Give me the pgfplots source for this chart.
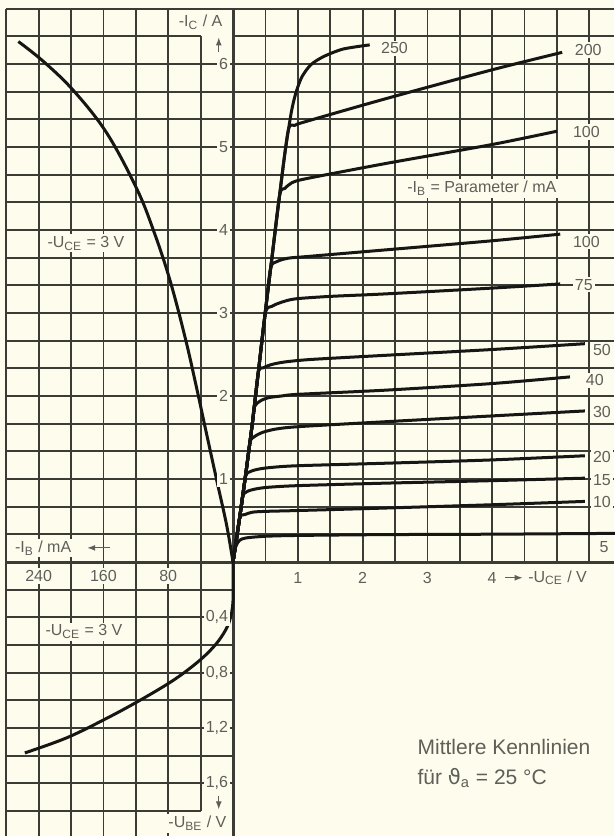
\documentclass[border=0pt]{standalone}
\usepackage{fontspec}
\setmainfont{Liberation Sans}
\newfontfamily\dejavu{DejaVu Sans}
\usepackage{pgfplots}
\pgfplotsset{compat=1.18}
\usetikzlibrary{arrows.meta}
\definecolor{bg}{RGB}{254,252,236}
\definecolor{gridc}{RGB}{60,60,55}
\definecolor{curvec}{RGB}{22,22,20}
\definecolor{txt}{RGB}{95,95,90}
\pgfplotsset{cv/.style={color=curvec, line width=1.5pt, smooth, tension=0.45, no markers}}
\tikzset{lab/.style={font=\fontsize{8}{9}\selectfont, text=txt, fill=bg, inner sep=1pt}}
\begin{document}
\begin{tikzpicture}
\begin{axis}[
  scale only axis, width=307pt, height=418pt,
  xmin=-3.596, xmax=5.88, ymin=-3.301, ymax=6.771,
  xtick=\empty, ytick=\empty,
  axis line style={draw=none},
  axis background/.style={fill=bg},
  clip=false,
]
% grid
\draw[gridc, line width=0.9pt]
  foreach \x in {-3.5,-3,-2.5,-2,-1.5,-1} {(\x,-3.301) -- (\x,6.667)}
  (-0.5,-3.0) -- (-0.5,6.333)
  foreach \x in {0.5,1,...,5.5} {(\x,0) -- (\x,6.667)}
  foreach \k in {1,...,18,20} {(-3.5,\k/3) -- (5.88,\k/3)}
  (-3.5,19/3) -- (-0.5,19/3) (0,19/3) -- (5.88,19/3)
  foreach \k in {1,...,8} {(-3.5,-\k/3) -- (0,-\k/3)}
  (-3.5,-3) -- (-0.5,-3);
\draw[gridc, line width=1.5pt] (-3.5,0) -- (5.88,0) (0,-3.301) -- (0,6.667);

% output characteristics  -I_C vs -U_CE
\addplot[cv] coordinates {(0,0)(0.04,0.18)(0.1,0.26)(0.2,0.29)(0.5,0.31)(1,0.32)(2.35,0.33)(4,0.335)(5.9,0.345)};
\addplot[cv] coordinates {(0,0)(0.1,0.52)(0.18,0.57)(0.3,0.6)(0.5,0.61)(1,0.62)(2.35,0.65)(4,0.69)(5.43,0.73)};
\addplot[cv] coordinates {(0,0)(0.1,0.52)(0.15,0.79)(0.22,0.85)(0.35,0.88)(0.54,0.9)(1,0.92)(2.35,0.95)(4,0.98)(5.43,1.01)};
\addplot[cv] coordinates {(0,0)(0.1,0.52)(0.19,1.02)(0.27,1.09)(0.4,1.12)(0.6,1.14)(1,1.16)(2.35,1.19)(4,1.23)(5.43,1.28)};
\addplot[cv] coordinates {(0,0)(0.1,0.52)(0.2,1.08)(0.26,1.44)(0.33,1.51)(0.45,1.56)(0.65,1.6)(1,1.63)(2.35,1.69)(4,1.76)(5.43,1.82)};
\addplot[cv] coordinates {(0,0)(0.1,0.52)(0.2,1.08)(0.3,1.68)(0.33,1.87)(0.42,1.94)(0.55,1.98)(0.75,2.0)(1,2.02)(2.35,2.07)(4,2.15)(5.2,2.23)};
\addplot[cv] coordinates {(0,0)(0.1,0.52)(0.2,1.08)(0.3,1.68)(0.39,2.28)(0.47,2.34)(0.6,2.38)(0.8,2.41)(1.2,2.44)(2.35,2.49)(4,2.56)(5.43,2.63)};
\addplot[cv] coordinates {(0,0)(0.1,0.52)(0.2,1.08)(0.3,1.68)(0.4,2.35)(0.5,3.0)(0.6,3.08)(0.75,3.13)(0.96,3.17)(1.5,3.2)(2.35,3.23)(4,3.3)(5.05,3.35)};
\addplot[cv] coordinates {(0,0)(0.1,0.52)(0.2,1.08)(0.3,1.68)(0.4,2.35)(0.5,3.02)(0.58,3.54)(0.68,3.62)(0.85,3.66)(1.14,3.68)(2.35,3.76)(4,3.87)(5.05,3.95)};
\addplot[cv] coordinates {(0,0)(0.1,0.52)(0.2,1.08)(0.3,1.68)(0.4,2.35)(0.5,3.02)(0.6,3.66)(0.72,4.42)(0.8,4.5)(0.91,4.57)(1.14,4.62)(2.35,4.8)(4,5.03)(5.0,5.19)};
\addplot[cv] coordinates {(0,0)(0.1,0.52)(0.2,1.08)(0.3,1.68)(0.4,2.35)(0.5,3.02)(0.6,3.66)(0.7,4.3)(0.85,5.19)(0.95,5.26)(1.14,5.31)(2.35,5.58)(4,5.93)(5.08,6.14)};
\addplot[cv] coordinates {(0,0)(0.1,0.52)(0.2,1.08)(0.3,1.68)(0.4,2.35)(0.5,3.02)(0.6,3.66)(0.7,4.3)(0.8,4.92)(0.9,5.42)(0.97,5.65)(1.06,5.84)(1.2,5.99)(1.4,6.09)(1.7,6.18)(2.11,6.23)};

% transfer characteristic -I_C vs -I_B (mA), U_CE = 3 V
\addplot[cv, tension=0.6] table[x expr=-\thisrow{ib}/80, y=ic] {
ib ic
0 0
8 0.45
20 0.98
33 1.56
45 2.1
59 2.7
78 3.4
98 3.99
119 4.5
156 5.17
197 5.68
234 6.03
265 6.27
};
% input characteristic -U_BE vs -I_B
\addplot[cv, tension=0.6] table[x expr=-\thisrow{ib}/80, y expr=-\thisrow{ube}*5/3] {
ib ube
0 0
0 0.28
4 0.42
12 0.52
25 0.62
45 0.73
75 0.86
115 1.0
156 1.13
205 1.27
257 1.38
};

% labels
\node[lab, anchor=east] at (-0.04,1) {1};
\node[lab, anchor=east] at (-0.04,2) {2};
\node[lab, anchor=east] at (-0.04,3) {3};
\node[lab, anchor=east] at (-0.04,4) {4};
\node[lab, anchor=east] at (-0.04,5) {5};
\node[lab, anchor=east] at (-0.04,6) {6};
\node[lab, anchor=east] at (-0.04,-0.667) {0,4};
\node[lab, anchor=east] at (-0.04,-1.333) {0,8};
\node[lab, anchor=east] at (-0.04,-2.0) {1,2};
\node[lab, anchor=east] at (-0.04,-2.667) {1,6};
\node[lab] at (-3,-0.167) {240};
\node[lab] at (-2,-0.167) {160};
\node[lab] at (-1,-0.167) {80};
\node[lab] at (1,-0.19) {1};
\node[lab] at (2,-0.19) {2};
\node[lab] at (3,-0.19) {3};
\node[lab] at (4,-0.19) {4};
\draw[txt, line width=0.6pt, -{Latex[length=4pt,width=3pt]}] (4.2,-0.19) -- (4.47,-0.19);
\node[lab, anchor=west] at (4.52,-0.19) {-U\textsubscript{CE} / V};
\node[lab, anchor=west] at (-3.4,0.17) {-I\textsubscript{B} / mA};
\draw[txt, line width=0.6pt, -{Latex[length=4pt,width=3pt]}] (-1.9,0.17) -- (-2.25,0.17);
\node[lab] at (-0.5,6.5) {-I\textsubscript{C} / A};
\draw[txt, line width=0.6pt, -{Latex[length=4pt,width=3pt]}] (-0.22,6.14) -- (-0.22,6.32);
\node[lab] at (-0.55,-3.15) {-U\textsubscript{BE} / V};
\draw[txt, line width=0.6pt, -{Latex[length=4pt,width=3pt]}] (-0.22,-2.82) -- (-0.22,-2.98);
\node[lab] at (-2.27,3.84) {-U\textsubscript{CE} = 3 V};
\node[lab] at (-2.3,-0.84) {-U\textsubscript{CE} = 3 V};
\node[lab] at (3.84,4.5) {-I\textsubscript{B} = Parameter / mA};
% curve parameters
\node[lab, anchor=west] at (2.25,6.19) {250};
\node[lab, anchor=west] at (5.24,6.17) {200};
\node[lab, anchor=west] at (5.21,5.18) {100};
\node[lab, anchor=west] at (5.21,3.86) {100};
\node[lab, anchor=west] at (5.24,3.34) {75};
\node[lab, anchor=west] at (5.52,2.55) {50};
\node[lab, anchor=west] at (5.41,2.19) {40};
\node[lab, anchor=west] at (5.52,1.81) {30};
\node[lab, anchor=west] at (5.52,1.27) {20};
\node[lab, anchor=west] at (5.52,0.99) {15};
\node[lab, anchor=west] at (5.52,0.72) {10};
\node[lab, anchor=west] at (5.62,0.18) {5};
\node[font=\fontsize{10.5}{12}\selectfont, text=txt, anchor=west] at (2.74,-2.23) {Mittlere Kennlinien};
\node[font=\fontsize{10.5}{12}\selectfont, text=txt, anchor=west] at (2.74,-2.6) {für {\dejavu ϑ}\textsubscript{a} = 25 °C};
\end{axis}
\pgfresetboundingbox
\path (current axis.south west) rectangle (current axis.north east);
\end{tikzpicture}
\end{document}
